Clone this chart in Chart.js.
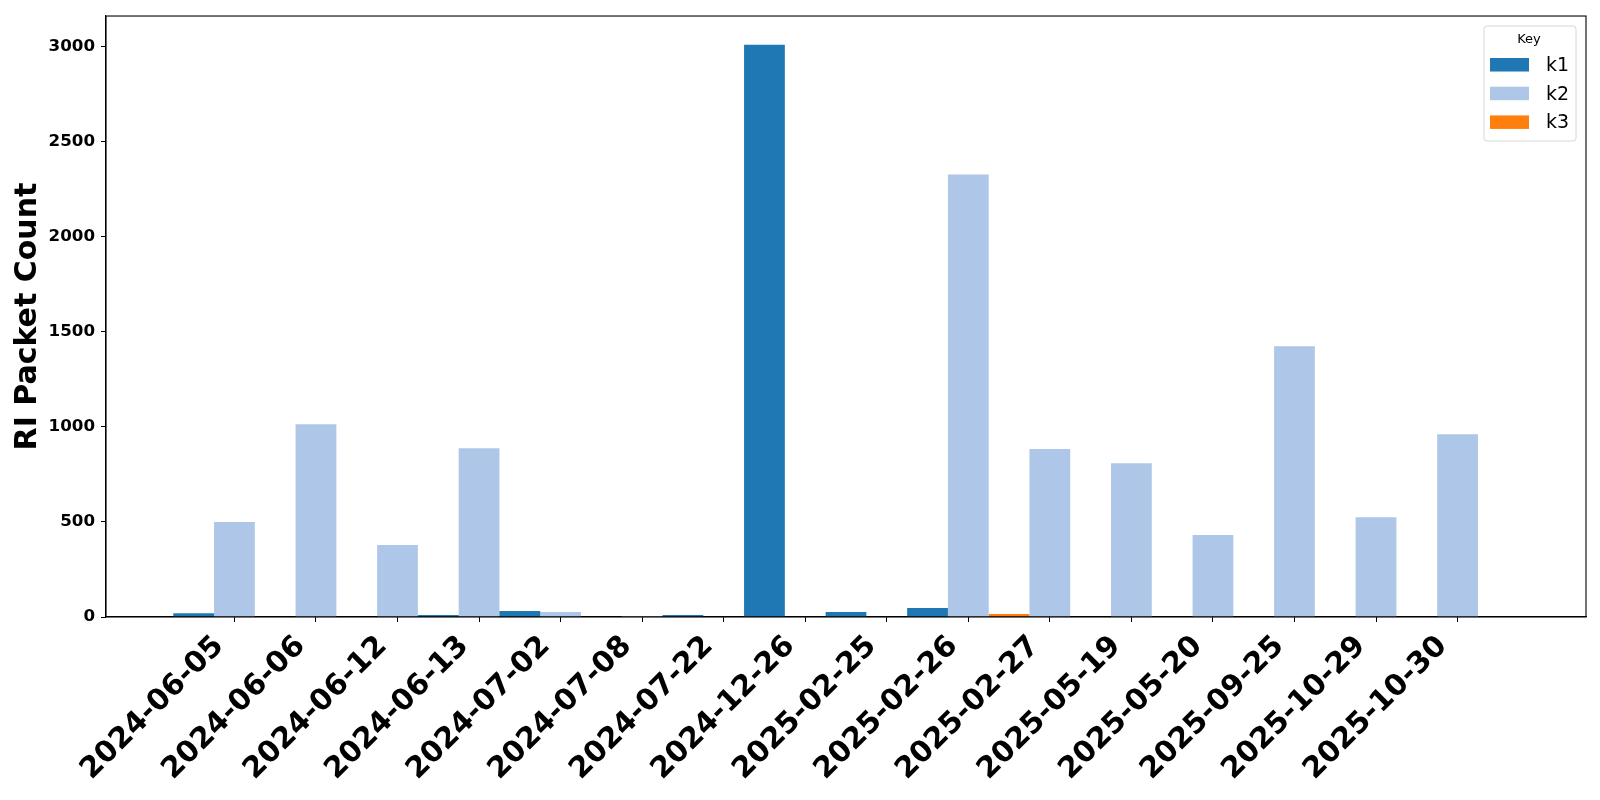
<!DOCTYPE html>
<html>
<head>
<meta charset="utf-8">
<script src="https://cdn.jsdelivr.net/npm/chart.js@4.4.1/dist/chart.umd.min.js"></script>
<style>
  html, body { margin: 0; padding: 0; background: #fff; }
  #wrap { width: 1600px; height: 800px; }
</style>
</head>
<body>
<div id="wrap"><canvas id="chart" width="1600" height="800"></canvas></div>
<script>
const dates = [
  "2024-06-05", "2024-06-06", "2024-06-12", "2024-06-13", "2024-07-02", "2024-07-08",
  "2024-07-22", "2024-12-26", "2025-02-25", "2025-02-26", "2025-02-27", "2025-05-19",
  "2025-05-20", "2025-09-25", "2025-10-29", "2025-10-30"
];
const k1 = [20, 0, 0, 10, 32, 0, 11, 3010, 26, 47, 0, 0, 0, 0, 0, 0];
const k2 = [499, 1014, 378, 888, 26, 5, 0, 0, 0, 2327, 883, 809, 431, 1424, 525, 961];
const k3 = [0, 0, 0, 0, 0, 0, 0, 0, 0, 16, 0, 0, 0, 0, 0, 0];
const yTicks = [0, 500, 1000, 1500, 2000, 2500, 3000];

const FONT = "'DejaVu Sans', sans-serif";

// x range like matplotlib: bars reach +-0.75 around the first/last slot, plus 5% margin
const spanLo = -0.75, spanHi = dates.length - 1 + 0.75;
const xMargin = 0.05 * (spanHi - spanLo);
const yMax = Math.max(...k1, ...k2, ...k3) * 1.05;

const toPoints = (arr) => arr.map((v, i) => ({ x: i, y: v }));

// draws the framed "Key" legend in the top-right of the plot area
const keyLegend = {
  id: "keyLegend",
  afterDraw(chart) {
    const { ctx, chartArea } = chart;
    const w = 92, h = 115;
    const x0 = chartArea.right - 10 - w;
    const y0 = chartArea.top + 10;
    ctx.save();
    ctx.beginPath();
    ctx.roundRect(x0, y0, w, h, 3);
    ctx.fillStyle = "rgba(255,255,255,0.8)";
    ctx.fill();
    ctx.strokeStyle = "#d6d6d6";
    ctx.lineWidth = 1;
    ctx.stroke();

    ctx.fillStyle = "#000";
    ctx.font = "13px " + FONT;
    ctx.textAlign = "center";
    ctx.textBaseline = "middle";
    ctx.fillText("Key", x0 + w / 2 - 1, y0 + 14);

    ctx.font = "19px " + FONT;
    ctx.textAlign = "left";
    chart.data.datasets.forEach((ds, i) => {
      const cy = y0 + 39 + i * 28.7;
      ctx.fillStyle = ds.backgroundColor;
      ctx.fillRect(x0 + 6, cy - 7, 39, 13.5);
      ctx.fillStyle = "#000";
      ctx.fillText(ds.label, x0 + 62, cy + 1);
    });
    ctx.restore();
  },
};

// top and right spines
const frame = {
  id: "frame",
  afterDatasetsDraw(chart) {
    const { ctx, chartArea } = chart;
    ctx.save();
    ctx.strokeStyle = "#000";
    ctx.lineWidth = 1.1;
    ctx.strokeRect(chartArea.left, chartArea.top, chartArea.right - chartArea.left, chartArea.bottom - chartArea.top);
    ctx.restore();
  },
};

new Chart(document.getElementById("chart"), {
  type: "bar",
  data: {
    datasets: [
      { label: "k1", data: toPoints(k1), backgroundColor: "#1f77b4" },
      { label: "k2", data: toPoints(k2), backgroundColor: "#aec7e8" },
      { label: "k3", data: toPoints(k3), backgroundColor: "#ff7f0e" },
    ],
  },
  options: {
    responsive: false,
    animation: false,
    devicePixelRatio: 1,
    layout: { padding: { left: 0, top: 15, right: 14, bottom: 0 } },
    datasets: {
      bar: { categoryPercentage: 1.5, barPercentage: 1, borderWidth: 0 },
    },
    plugins: {
      legend: { display: false },
      tooltip: { enabled: false },
    },
    scales: {
      x: {
        type: "linear",
        offset: false,
        min: spanLo - xMargin,
        max: spanHi + xMargin,
        afterBuildTicks: (scale) => {
          scale.ticks = dates.map((d, i) => ({ value: i }));
        },
        afterFit: (scale) => {
          scale.height = 183;
          scale.paddingLeft = 0;
          scale.paddingRight = 0;
        },
        ticks: {
          autoSkip: false,
          minRotation: 45,
          maxRotation: 45,
          padding: 7,
          labelOffset: -15,
          color: "#000",
          font: { family: FONT, size: 29.5, weight: "bold" },
          callback: (v) => dates[v] ?? "",
        },
        grid: { offset: false, drawOnChartArea: false, color: "#000", tickLength: 5, tickWidth: 1 },
        border: { color: "#000", width: 1.1 },
      },
      y: {
        min: 0,
        max: yMax,
        afterBuildTicks: (scale) => {
          scale.ticks = yTicks.map((v) => ({ value: v }));
        },
        afterFit: (scale) => {
          scale.width = 106;
        },
        ticks: {
          padding: 6,
          color: "#000",
          font: { family: FONT, size: 16.7, weight: "bold" },
          callback: (v) => String(v),
        },
        grid: { drawOnChartArea: false, color: "#000", tickLength: 5, tickWidth: 1 },
        border: { color: "#000", width: 1.1 },
        title: {
          display: true,
          text: "RI Packet Count",
          color: "#000",
          padding: { top: 10, bottom: 0 },
          font: { family: FONT, size: 30, weight: "bold" },
        },
      },
    },
  },
  plugins: [keyLegend, frame],
});
</script>
</body>
</html>
